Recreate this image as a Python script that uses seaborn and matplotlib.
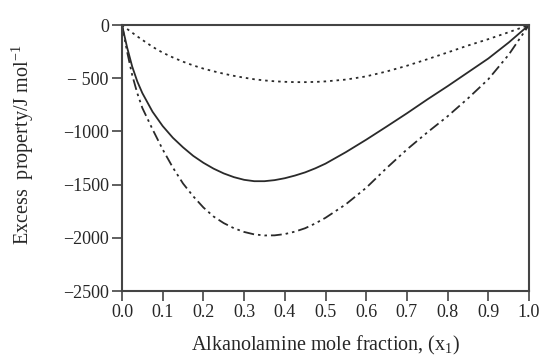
import matplotlib
matplotlib.use("Agg")
import matplotlib.pyplot as plt
import seaborn as sns
import numpy as np
import pandas as pd

# mole fraction of alkanolamine
x1 = [0.0, 0.0125, 0.025, 0.0375, 0.05, 0.075, 0.1, 0.125, 0.15, 0.175, 0.2, 0.225,
      0.25, 0.275, 0.3, 0.325, 0.35, 0.375, 0.4, 0.425, 0.45, 0.475, 0.5,
      0.55, 0.6, 0.65, 0.7, 0.75, 0.8, 0.85, 0.9, 0.95, 1.0]

# excess property, J/mol
solid = [0, -210, -390, -530, -640, -815, -950, -1060, -1150, -1230, -1295, -1350,
         -1395, -1430, -1455, -1468, -1468, -1458, -1440, -1415, -1385, -1347, -1303,
         -1195, -1078, -955, -830, -700, -575, -445, -315, -165, 0]
dotted = [0, -37, -72, -107, -140, -205, -260, -305, -345, -380, -410, -435,
          -458, -478, -495, -510, -521, -529, -534, -537, -537, -535, -530,
          -513, -483, -437, -383, -322, -258, -193, -133, -68, 0]
dashdot = [0, -250, -470, -640, -780, -980, -1170, -1340, -1490, -1610, -1715, -1800,
           -1862, -1910, -1945, -1968, -1978, -1977, -1965, -1942, -1910, -1865, -1812,
           -1685, -1530, -1345, -1170, -1010, -858, -690, -510, -280, 0]

xticks = [0.0, 0.1, 0.2, 0.3, 0.4, 0.5, 0.6, 0.7, 0.8, 0.9, 1.0]
yticks = [0, -500, -1000, -1500, -2000, -2500]
ytick_labels = ["0", "\u2212 500", "\u22121000", "\u22121500", "\u22122000", "\u22122500"]

df = pd.DataFrame({"x": x1, "a": solid, "b": dotted, "c": dashdot})
df = pd.melt(df, id_vars="x", value_vars=["a", "b", "c"], var_name="curve", value_name="E")

sns.set_style("white")
plt.rcParams["font.family"] = ["Liberation Serif", "DejaVu Serif"]
plt.rcParams["mathtext.fontset"] = "custom"
plt.rcParams["mathtext.rm"] = "Liberation Serif"

fig = plt.figure(figsize=(5.45, 3.58), dpi=100)
ax = fig.add_axes([122/545, 1 - 291/358, (529 - 122)/545, (291 - 25)/358])

sns.lineplot(data=df, x="x", y="E", style="curve", ax=ax, color="#2a2a2a",
             linewidth=1.3, legend=False,
             dashes={"a": "", "b": (1.4, 2.2), "c": (6, 2.2, 1.4, 2.2, 1.4, 2.2)})
for ln in ax.lines:
    ln.set_solid_joinstyle("round")
    ln.set_dash_joinstyle("round")

ax.set_xlim(0, 1)
ax.set_ylim(-2500, 0)
ax.set_xticks(xticks)
ax.set_xticklabels(["%.1f" % t for t in xticks])
ax.set_yticks(yticks)
ax.set_yticklabels(ytick_labels)
ax.tick_params(direction="out", length=7.5, width=1.2, color="#444444",
               labelsize=13, pad=2, bottom=True, left=True)

for s in ax.spines.values():
    s.set_color("#444444")
    s.set_linewidth(1.5)

ax.set_xlabel("Alkanolamine mole fraction, (x$\\mathregular{_1}$)", fontsize=14.5, labelpad=9)
ax.set_ylabel("Excess  property/J mol$\\mathregular{^{-1}}$", fontsize=14.5)
ax.yaxis.set_label_coords(-0.211, 0.55)

fig.savefig("out.png", dpi=100)
